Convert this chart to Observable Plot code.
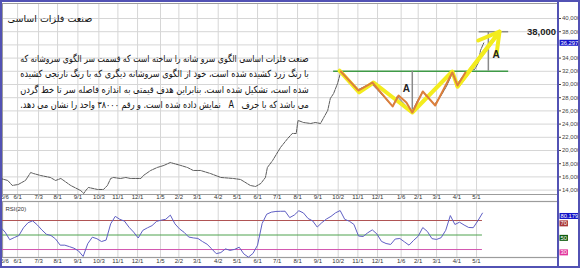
<!DOCTYPE html>
<html><head><meta charset="utf-8">
<script src="https://cdn.jsdelivr.net/npm/d3@7"></script>
<script src="https://cdn.jsdelivr.net/npm/@observablehq/plot@0.6"></script>
<style>
html,body{margin:0;padding:0;background:#fff;}
#chart{position:relative;width:580px;height:268px;overflow:hidden;background:#fff;}
#chart svg{position:absolute;left:0;overflow:visible;}
#sep{position:absolute;left:557px;top:0;width:2px;height:268px;background:#5252b4;}
#border{position:absolute;left:0;top:0;width:580px;height:268px;box-sizing:border-box;border:2px solid #5252b4;pointer-events:none;}
</style></head><body>
<div id="chart"><div id="sep"></div><div id="border"></div></div>
<script>
// ---------- data ----------
const title = "صنعت فلزات اساسی";
const noteLines = [
  "صنعت فلزات اساسی الگوی سرو شانه را ساخته است که قسمت سر الگوی سروشانه که",
  "با رنگ زرد کشیده شده است، خود از الگوی سروشانه دیگری که با رنگ نارنجی کشیده",
  "شده است، تشکیل شده است. بنابراین هدف قیمتی به اندازه فاصله سر تا خط گردن",
  "می باشد که با حرف\u00A0\u00A0 A \u00A0\u00A0نمایش داده شده است. و رقم ۳۸۰۰۰ واحد را نشان می دهد."
];
const noteValues = [33900, 31600, 29250, 26900];
const noteLeftDate = "2007-06-05", noteRightDate = "2008-08-18";

const tickDates = ["2007-05-06","2007-06-01","2007-07-03","2007-08-01","2007-09-01","2007-10-03","2007-11-01","2007-12-01","2008-01-05","2008-02-02","2008-03-01","2008-04-02","2008-05-01","2008-06-01","2008-07-01","2008-08-01","2008-09-01","2008-10-02","2008-11-01","2008-12-01","2009-01-06","2009-02-01","2009-03-01","2009-04-01","2009-05-01"];
const yTicks = [14000,16000,18000,20000,22000,24000,26000,28000,30000,32000,34000,36000,38000,40000];

const priceDates = ["2007-05-06","2007-05-17","2007-05-24","2007-06-02","2007-06-13","2007-06-21","2007-06-25","2007-07-06","2007-07-21","2007-07-29","2007-08-06","2007-08-21","2007-09-05","2007-09-10","2007-09-13","2007-09-17","2007-10-01","2007-10-10","2007-10-16","2007-10-21","2007-10-25","2007-11-05","2007-11-13","2007-11-20","2007-12-06","2007-12-10","2007-12-21","2007-12-31","2008-01-10","2008-01-20","2008-01-25","2008-02-05","2008-02-15","2008-02-24","2008-03-06","2008-03-21","2008-04-06","2008-04-25","2008-05-06","2008-05-21","2008-05-29","2008-06-06","2008-06-13","2008-06-16","2008-06-24","2008-07-06","2008-07-17","2008-07-24","2008-07-30","2008-08-01","2008-08-02","2008-08-10","2008-08-21","2008-08-28","2008-09-05","2008-09-10","2008-09-16","2008-09-20","2008-09-25","2008-10-01","2008-10-06","2008-10-13","2008-10-21","2008-10-30","2008-11-05","2008-11-14","2008-11-23","2008-12-02","2008-12-13","2008-12-24","2008-12-31","2009-01-10","2009-01-17","2009-01-23","2009-01-31","2009-02-08","2009-02-17","2009-02-26","2009-03-07","2009-03-16","2009-03-25","2009-04-02","2009-04-11","2009-04-19","2009-04-28","2009-05-04","2009-05-07","2009-05-12"];
const priceValues = [15760,15457,14700,14851,15457,16669,16518,16215,15912,15457,15760,14700,13942,13488,13942,14397,14094,14094,14700,15760,15912,15760,15912,15760,15760,16215,16972,17427,17730,18184,18033,17730,17427,16972,16972,16518,15912,15760,15609,14700,14548,15003,15912,17427,18487,20457,21820,22578,22578,24093,24547,24244,24093,24244,24093,25000,26062,27880,28638,30153,31970,30910,30001,29092,29395,29850,30001,29092,27880,26668,28183,27122,26365,25910,27577,28941,27880,26971,28183,29698,31668,30153,31365,32122,32273,33334,35152,36297];

const yellowDates = ["2008-10-04","2008-11-03","2008-11-25","2009-01-23","2009-03-25","2009-04-02","2009-06-05"];
const yellowValues = [32100,28800,30300,25760,31970,29700,38000];
const orangeDates = ["2008-10-06","2008-11-02","2008-11-23","2008-12-24","2009-01-02","2009-01-14","2009-01-23","2009-02-08","2009-02-27","2009-03-25","2009-04-02","2009-04-14"];
const orangeValues = [31970,29090,30300,26670,28330,27270,25760,28940,26820,31820,29850,31820];

const neckline = 32000, neckStart = "2008-09-25", neckEnd = "2009-06-19";
const headDate = "2009-01-23", headLow = 25760;
const targetDate = "2009-05-19", target = 38000, targetStart = "2009-05-05", targetEnd = "2009-06-19";
const aLabelDates = ["2009-01-14","2009-05-31"];
const aLabelValues = [29400, 34550];
const targetLabelDate = "2009-07-17";
const lastPrice = 36297;

const rsiStart = "2007-05-06"; // weekly samples
const rsiValues = [60.8,54,43.5,46.5,49.3,60,67,69.5,64,57,51,49.3,44.5,36,36,34,31.8,28,20.5,38,47,44.9,41,43,65.5,75.7,71.6,69.2,60.7,54,45.9,56.4,59.9,62.9,68.8,70.5,71.7,77.4,65.4,58.4,53.7,47.2,46,45.3,41,37.3,31,24.3,25.8,30.9,28.8,30.2,33.2,24,19.5,24.6,36,66,78.7,81.5,82.5,82.7,82.8,74,77.5,83.5,80.4,72.8,69.5,61,67,72,75.7,80.6,83.7,71.6,69,64.6,48.6,48,53,57.1,51.5,41.2,38.3,37,44.5,45.2,40.6,36,42.6,48.4,60.3,54.9,45,43.9,46.3,56.5,76.8,64.5,67.7,63.8,60.4,60.1,69.6,80.179];
const rsiLevels = [70, 50, 30];
const rsiLevelColors = ["#b05454", "#4fa24f", "#d357b0"];
const rsiTagColors = ["#a83838", "#0f5c0f", "#e2339c"];

// ---------- build ----------
const D = s => new Date(s);
const xDomain = [D("2007-05-09"), D("2009-09-03")];
const fmt = d3.utcFormat("%-m/%-d");
const ticks = tickDates.map(D);
const price = priceDates.map((d, i) => ({date: D(d), value: priceValues[i]}));
const yellow = yellowDates.map((d, i) => ({date: D(d), value: yellowValues[i]}));
const orange = orangeDates.map((d, i) => ({date: D(d), value: orangeValues[i]}));
const rsi = rsiValues.map((v, i) => ({date: d3.utcDay.offset(D(rsiStart), 7 * i), value: v}));
const rsiEnd = rsi[rsi.length - 1].date;
const noteTexts = noteLines.map(t => "\u202B" + t + "\u202C");
const notes = noteTexts.map((t, i) => ({text: t, value: noteValues[i]}));
const aLabels = aLabelDates.map((d, i) => ({date: D(d), value: aLabelValues[i]}));
const n = yellow.length;
const arrowSeg = [{x1: yellow[n - 2].date, y1: yellow[n - 2].value, x2: yellow[n - 1].date, y2: yellow[n - 1].value}];

const FONT = "'Liberation Sans', Arial, sans-serif";
const FA = "'DejaVu Sans', sans-serif";
const grid = "#d6d6d6";

const mainTags = [{label: d3.format(",")(lastPrice), value: lastPrice, color: "#1414c8"}];
const axisTicks = yTicks.filter(t => Math.abs(t - lastPrice) > 1000);
const rsiTags = [{label: "80.179", value: rsiValues[rsiValues.length - 1], color: "#1414c8"}]
  .concat(rsiLevels.map((l, i) => ({label: String(l), value: l, color: rsiTagColors[i]})));

const main = Plot.plot({
  width: 580, height: 200,
  marginLeft: 2, marginRight: 22, marginTop: 3, marginBottom: 6,
  style: {fontFamily: FONT, fontSize: "6px", color: "#444", background: "transparent"},
  x: {type: "utc", domain: xDomain, axis: null},
  y: {domain: [13333, 42273], axis: "right", ticks: axisTicks, tickFormat: d3.format(","), tickSize: 2, tickPadding: 1.5, label: null},
  marks: [
    Plot.ruleY(yTicks, {stroke: grid}),
    Plot.ruleX(ticks, {stroke: grid}),
    Plot.frame({stroke: "#9c9c9c"}),
    Plot.line(price, {x: "date", y: "value", stroke: "#333", strokeWidth: 0.8, strokeDasharray: "3,1"}),
    Plot.ruleY([neckline], {x1: D(neckStart), x2: D(neckEnd), stroke: "#3f9a47", strokeWidth: 1.6}),
    Plot.ruleX([D(headDate)], {y1: neckline, y2: headLow, stroke: "#8a8a8a", strokeWidth: 1.5}),
    Plot.ruleX([D(targetDate)], {y1: neckline, y2: target, stroke: "#8a8a8a", strokeWidth: 1.5}),
    Plot.ruleY([target], {x1: D(targetStart), x2: D(targetEnd), stroke: "#8a8a8a", strokeWidth: 1.5}),
    Plot.line(yellow, {x: "date", y: "value", stroke: "#f3ec1e", strokeWidth: 4, strokeLinejoin: "round"}),
    Plot.arrow(arrowSeg, {x1: "x1", y1: "y1", x2: "x2", y2: "y2", stroke: "#f3ec1e", strokeWidth: 4, headLength: 10}),
    Plot.line(orange, {x: "date", y: "value", stroke: "#dc7f3c", strokeWidth: 2}),
    Plot.text(aLabels, {x: "date", y: "value", text: () => "A", fontWeight: "bold", fontSize: 10, fill: "#222"}),
    Plot.text([target], {x: D(targetLabelDate), y: d => d, text: d => d3.format(",")(d), textAnchor: "start", fontWeight: "bold", fontSize: 9.5, fill: "#222"}),
    Plot.text(notes, {x: () => D(noteRightDate), y: "value", text: "text", textAnchor: "end", fontSize: 9.8, fontFamily: FA, fill: "#111"}),
    Plot.text([title], {text: d => "\u202B" + d + "\u202C", frameAnchor: "top-left", dx: 5, dy: 12, textAnchor: "start", fontSize: 9.5, fontFamily: FA, fill: "#111"}),
    Plot.text(ticks.slice(0, 1), {x: d => d, text: fmt, frameAnchor: "bottom", dy: 4, textAnchor: "start", fontSize: 6, fill: "#333"}),
    Plot.text(ticks.slice(1), {x: d => d, text: fmt, frameAnchor: "bottom", dy: 4, fontSize: 6, fill: "#333"}),
    Plot.text(mainTags, {y: "value", text: "label", frameAnchor: "right", dx: 2, textAnchor: "start", fontSize: 5.8, fill: "white"})
  ]
});

const rsiPlot = Plot.plot({
  width: 580, height: 70,
  marginLeft: 2, marginRight: 22, marginTop: 3, marginBottom: 11,
  style: {fontFamily: FONT, fontSize: "6px", color: "#444", background: "transparent"},
  x: {type: "utc", domain: xDomain, axis: null},
  y: {domain: [19, 96.2], axis: null},
  marks: [
    Plot.ruleX(ticks, {stroke: grid}),
    Plot.frame({stroke: "#9c9c9c", strokeWidth: 1.2}),
    ...rsiLevels.map((l, i) => Plot.ruleY([l], {x1: xDomain[0], x2: rsiEnd, stroke: rsiLevelColors[i], strokeWidth: 1})),
    Plot.line(rsi, {x: "date", y: "value", stroke: "#5f5fc4", strokeWidth: 1}),
    Plot.text(["RSI(20)"], {text: d => d, frameAnchor: "top-left", dx: 3, dy: 5, textAnchor: "start", fontSize: 6, fill: "#333"}),
    Plot.text(ticks.slice(0, 1), {x: d => d, text: fmt, frameAnchor: "bottom", dy: 5, textAnchor: "start", fontSize: 6, fill: "#333"}),
    Plot.text(ticks.slice(1), {x: d => d, text: fmt, frameAnchor: "bottom", dy: 5, fontSize: 6, fill: "#333"}),
    Plot.text(rsiTags, {y: "value", text: "label", frameAnchor: "right", dx: 2, dy: 3, textAnchor: "start", fontSize: 5.8, fill: "white"})
  ]
});

const chart = document.getElementById("chart");
const sep = document.getElementById("sep");
main.style.top = "0px";
rsiPlot.style.top = "198px";
chart.insertBefore(main, sep);
chart.insertBefore(rsiPlot, sep);

// justify the note lines to the width of the reference's text block
const xs = main.scale("x");
const noteWidth = xs.apply(D(noteRightDate)) - xs.apply(D(noteLeftDate));
d3.select(main).selectAll("text").each(function () {
  if (noteTexts.includes(this.textContent)) {
    this.setAttribute("textLength", noteWidth);
    this.setAttribute("lengthAdjust", "spacingAndGlyphs");
  }
});

function tagBoxes(svg, tags) {
  d3.select(svg).selectAll("text").each(function () {
    const t = tags.find(d => d.label === this.textContent);
    if (!t) return;
    const node = this;
    const b = node.getBBox();
    d3.select(node.parentNode).insert("rect", () => node)
      .attr("transform", node.getAttribute("transform"))
      .attr("x", b.x - 1).attr("y", b.y).attr("width", b.width + 2).attr("height", b.height)
      .attr("fill", t.color);
  });
}
tagBoxes(main, mainTags);
tagBoxes(rsiPlot, rsiTags);
</script>
</body></html>
